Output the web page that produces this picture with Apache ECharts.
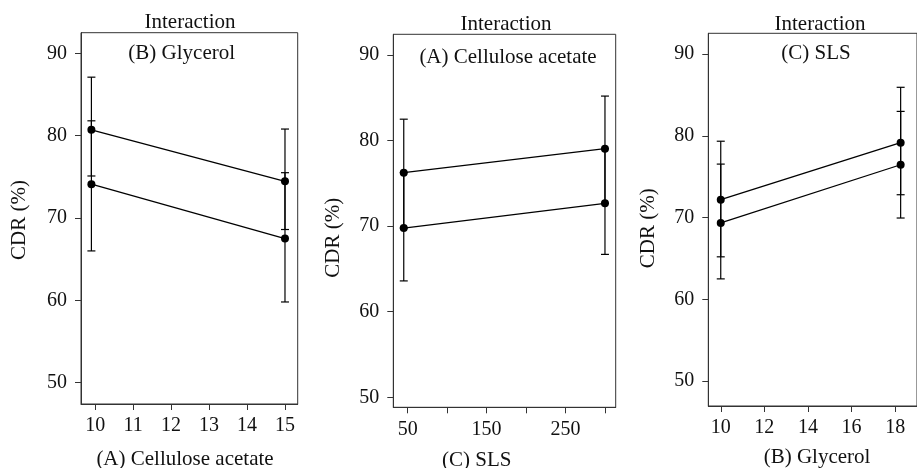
<!DOCTYPE html>
<html>
<head>
<meta charset="utf-8">
<script src="https://cdn.jsdelivr.net/npm/echarts@6/dist/echarts.min.js"></script>
<style>html,body{margin:0;padding:0;background:#fff}#c{width:917px;height:468px}</style>
</head>
<body>
<div id="c"></div>
<script>
// ---- Data ----
const yTicks = [50, 60, 70, 80, 90];

// Panel 1: x = (A) Cellulose acetate, lines = (B) Glycerol levels
const p1Ticks = [10, 11, 12, 13, 14, 15];
const p1Labels = [10, 11, 12, 13, 14, 15];
const p1X = [9.9, 15];
const p1Upper = [80.7, 74.45];
const p1Lower = [74.1, 67.5];
const p1UpperLo = [75.1, 68.6];
const p1UpperHi = [87.1, 80.8];
const p1LowerLo = [66.0, 59.8];
const p1LowerHi = [81.8, 75.5];

// Panel 2: x = (C) SLS, lines = (A) Cellulose acetate levels
const p2Ticks = [50, 100, 150, 200, 250, 300];
const p2Labels = [50, 150, 250];
const p2X = [45, 300];
const p2Upper = [76.25, 79.05];
const p2Lower = [69.78, 72.67];
const p2UpperLo = [69.78, 72.67];
const p2UpperHi = [82.5, 85.2];
const p2LowerLo = [63.6, 66.7];
const p2LowerHi = [76.25, 79.05];

// Panel 3: x = (B) Glycerol, lines = (C) SLS levels
const p3Ticks = [10, 12, 14, 16, 18];
const p3Labels = [10, 12, 14, 16, 18];
const p3X = [10, 18.25];
const p3Upper = [72.2, 79.17];
const p3Lower = [69.35, 76.47];
const p3UpperLo = [65.2, 72.8];
const p3UpperHi = [79.35, 85.95];
const p3LowerLo = [62.5, 69.95];
const p3LowerHi = [76.55, 83.0];

const titleText = 'Interaction';
const innerTitles = ['(B) Glycerol', '(A) Cellulose acetate', '(C) SLS'];
const xNames = ['(A) Cellulose acetate', '(C) SLS', '(B) Glycerol'];
const yName = 'CDR (%)';

// ---- Styling ----
const FONT = 'Liberation Serif';
const FS = 20;
const FS_T = 21;
const INK = '#111';
const AX = '#333';

const panels = [
  {x: p1X, up: p1Upper, lo: p1Lower, upLo: p1UpperLo, upHi: p1UpperHi, loLo: p1LowerLo, loHi: p1LowerHi,
   ticks: p1Ticks, labels: p1Labels, xmin: 9.626, xmax: 15.335, ymin: 47.41, ymax: 92.5,
   grid: {left: 81, top: 32.7, width: 216.7, height: 371.3}},
  {x: p2X, up: p2Upper, lo: p2Lower, upLo: p2UpperLo, upHi: p2UpperHi, loLo: p2LowerLo, loHi: p2LowerHi,
   ticks: p2Ticks, labels: p2Labels, xmin: 31.75, xmax: 313.6, ymin: 48.83, ymax: 92.42,
   grid: {left: 393.3, top: 34.3, width: 222.4, height: 373}},
  {x: p3X, up: p3Upper, lo: p3Lower, upLo: p3UpperLo, upHi: p3UpperHi, loLo: p3LowerLo, loHi: p3LowerHi,
   ticks: p3Ticks, labels: p3Labels, xmin: 9.429, xmax: 19.0, ymin: 46.94, ymax: 92.56,
   grid: {left: 708.3, top: 33.3, width: 221.1, height: 372.7}}
];

const grids = [], xAxes = [], yAxes = [], series = [];

function errRender(params, api) {
  const x = api.value(0), lo = api.value(1), hi = api.value(2);
  const pLo = api.coord([x, lo]);
  const pHi = api.coord([x, hi]);
  const w = 4;
  const st = {stroke: '#000', lineWidth: 1.2};
  return {
    type: 'group',
    children: [
      {type: 'line', shape: {x1: pLo[0], y1: pLo[1], x2: pHi[0], y2: pHi[1]}, style: st},
      {type: 'line', shape: {x1: pLo[0] - w, y1: pLo[1], x2: pLo[0] + w, y2: pLo[1]}, style: st},
      {type: 'line', shape: {x1: pHi[0] - w, y1: pHi[1], x2: pHi[0] + w, y2: pHi[1]}, style: st}
    ]
  };
}

panels.forEach((p, i) => {
  grids.push(Object.assign({show: true, borderColor: AX, borderWidth: 1, backgroundColor: 'transparent'}, p.grid));
  xAxes.push({
    type: 'value', gridIndex: i, min: p.xmin, max: p.xmax,
    axisLine: {show: true, lineStyle: {color: AX, width: 1}},
    axisTick: {show: true, length: 6, lineStyle: {color: AX}, customValues: p.ticks},
    axisLabel: {show: true, customValues: p.labels, margin: 12, color: INK, fontFamily: FONT, fontSize: FS},
    splitLine: {show: false}
  });
  yAxes.push({
    type: 'value', gridIndex: i, min: p.ymin, max: p.ymax,
    axisLine: {show: true, lineStyle: {color: AX, width: 1}},
    axisTick: {show: true, length: 6, lineStyle: {color: AX}, customValues: yTicks},
    axisLabel: {show: true, customValues: yTicks, margin: 14, color: INK, fontFamily: FONT, fontSize: FS},
    splitLine: {show: false}
  });
  series.push({
    type: 'custom', xAxisIndex: i, yAxisIndex: i, renderItem: errRender, z: 2,
    data: p.x.map((v, k) => [v, p.upLo[k], p.upHi[k]]).concat(p.x.map((v, k) => [v, p.loLo[k], p.loHi[k]]))
  });
  [p.up, p.lo].forEach(arr => {
    series.push({
      type: 'line', xAxisIndex: i, yAxisIndex: i, z: 3,
      data: p.x.map((v, k) => [v, arr[k]]),
      symbol: 'circle', symbolSize: 8,
      itemStyle: {color: '#000'},
      lineStyle: {color: '#000', width: 1.3},
      showSymbol: true, animation: false
    });
  });
});

const textStyle = (t) => ({text: t, font: FS_T + 'px "' + FONT + '"', fill: INK, align: 'center', verticalAlign: 'middle'});
const titlePos = [[190, 22.5], [506, 24], [820, 24]];
const innerPos = [[181.7, 53], [508, 57.5], [816, 53]];
const xNamePos = [[185, 459], [476.7, 460], [817, 457.5]];
const yNamePos = [[19.5, 220], [333.8, 237.7], [648.8, 228.3]];
const graphic = [];
for (let i = 0; i < 3; i++) {
  graphic.push({type: 'text', x: titlePos[i][0], y: titlePos[i][1], style: textStyle(titleText)});
  graphic.push({type: 'text', x: innerPos[i][0], y: innerPos[i][1], style: textStyle(innerTitles[i])});
  graphic.push({type: 'text', x: xNamePos[i][0], y: xNamePos[i][1], style: textStyle(xNames[i])});
  graphic.push({type: 'text', x: yNamePos[i][0], y: yNamePos[i][1], rotation: Math.PI / 2, style: textStyle(yName)});
}

const chart = echarts.init(document.getElementById('c'), null, {renderer: 'canvas'});
chart.setOption({
  animation: false,
  backgroundColor: '#fff',
  grid: grids, xAxis: xAxes, yAxis: yAxes, series: series, graphic: graphic
});
</script>
</body>
</html>
